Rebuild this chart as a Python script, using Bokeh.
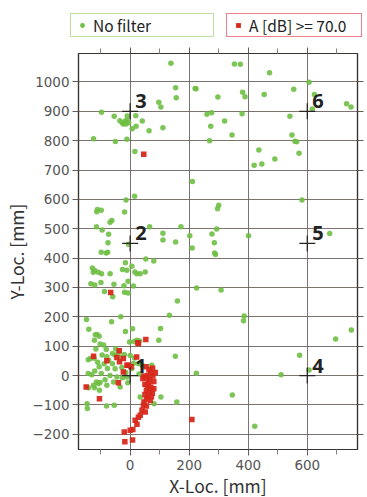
from bokeh.plotting import figure
from bokeh.layouts import column, row
from bokeh.models import (Range1d, FixedTicker, LinearAxis, Legend, LegendItem)
from bokeh.core.properties import value
from bokeh.embed import file_html
from bokeh.resources import INLINE

# ---- data -------------------------------------------------------------
green_pts = [
    (138,1064),(154,980),(156,946),(223,977),(97,931),(104,915),(-97,897),(-54,883),(-10,884),(19,885),
    (-35,868),(-27,861),(-18,865),(-11,871),(-23,857),(-14,857),(-5,861),(41,867),(20,849),(7,841),
    (64,834),(111,844),(-124,807),(-50,797),(-11,805),(16,763),
    (353,1061),(373,1060),(472,1031),(606,999),(220,978),(297,949),(381,965),(389,950),(454,957),(554,975),
    (624,957),(733,926),(748,915),(617,908),(260,890),(276,895),(379,892),(541,883),(320,867),(273,849),
    (345,819),(269,800),(548,819),(558,798),(564,796),(436,768),(572,757),(490,738),(420,716),(446,721),
    (211,661),(15,611),(-14,598),(-111,566),(-113,558),(-98,563),(-19,557),(-68,522),(-62,528),(-114,507),
    (-95,496),(-73,481),(66,507),(111,485),(111,462),(172,507),(154,455),(-75,452),(-6,447),(202,476),
    (210,434),(-98,420),(-81,417),(-76,420),(53,397),
    (582,598),(300,580),(296,568),(277,482),(293,499),(401,476),(676,484),(285,452),(286,417),(289,412),
    (225,298),(308,291),(386,203),(384,187),(749,155),(696,124),(574,69),(606,19),(511,3),(224,8),
    (346,-66),(422,-173),
    (80,390),(-16,384),(-128,366),(-120,358),(-108,352),(-97,347),(-125,352),(-68,347),(-26,361),(6,372),
    (16,353),(23,347),(34,347),(51,353),(-11,359),(-133,313),(-120,308),(-99,317),(-55,311),(-21,306),
    (-7,321),(11,305),(-19,284),(-7,281),(-87,286),(-59,268),(160,254),(133,205),(-32,200),(-148,191),
    (-63,183),(-140,158),(-16,150),(8,159),(103,160),(-118,139),(-112,140),(-105,134),(-121,120),(-102,107),
    (-90,104),(-2,114),(14,116),(23,120),(32,118),(97,120),(-116,90),(-81,89),(-49,91),(153,66),
    (-142,54),(-135,58),(-122,59),(-79,64),(-73,52),(-51,69),(-34,63),(11,41),(6,24),(28,41),
    (40,35),(-105,30),(-77,24),(-51,23),(-28,27),(-142,7),(-130,3),(-98,7),(-68,0),(-45,-5),
    (-26,-8),(-11,-5),(-85,-14),(-114,-22),(-107,-27),(-102,-24),(-124,-33),(-121,-42),(-79,-33),(-56,-22),
    (-34,-39),(-8,-25),(-141,-42),(-104,-50),(34,-73),(104,-73),(-146,-96),(-145,-112),(-80,-104),(-54,-101),
    (81,-96),(158,-90),(73,35),(-95,70),(-60,75),(-40,80),(-20,72),(0,68),(15,60),(-110,45),(-88,40),
    (-60,40),(-15,10),(30,5),(-120,15),
]
red_pts = [
    (46,754),(-66,283),(26,112),(53,123),(-37,84),(-79,50),(-124,66),(-45,61),(-36,47),(-23,58),
    (-6,35),(3,30),(-11,35),(22,63),(-23,12),(54,30),(64,20),(76,25),(85,10),(70,8),
    (47,-2),(56,-8),(66,-14),(77,-2),(-40,-25),(-149,-39),(-104,-79),(50,-30),(60,-35),(70,-40),
    (80,-45),(55,-50),(65,-55),(75,-60),(50,-65),(60,-70),(72,-72),(55,-80),(68,-85),(47,-90),
    (45,-101),(55,-104),(40,-118),(51,-124),(34,-135),(28,-142),(17,-152),(23,-166),(0,-186),(9,-184),
    (-20,-192),(-18,-226),(8,-220),(209,-150),(28,109),(60,0),(43,-10),(62,-25),(80,-20),(67,-45),
]
green_x = [p[0] for p in green_pts]
green_y = [p[1] for p in green_pts]
red_x = [p[0] for p in red_pts]
red_y = [p[1] for p in red_pts]

sensor_x = [0, 0, 0, 600, 600, 600]
sensor_y = [0, 450, 900, 0, 450, 900]
sensor_labels = ["1", "2", "3", "4", "5", "6"]

x_ticks = [0, 200, 400, 600]
x_minor = [-100, 100, 300, 500, 700]
y_ticks = list(range(-200, 1001, 100))

FONT = "Noto Sans CJK JP"
TICK_FONT = "DejaVu Sans"
GREEN = "#6fbf45"
RED = "#d8281c"
AXIS_C = "#3a3330"
GRID_C = "#665b56"

# ---- legend strip (two small figures side by side) --------------------
def legend_fig(width, left, label, marker, color, border_color, lw):
    f = figure(output_backend="svg", toolbar_location=None, width=width, height=40,
               x_axis_type=None, y_axis_type=None,
               min_border_left=left, min_border_right=0, min_border_top=13, min_border_bottom=0,
               x_range=Range1d(0, 1), y_range=Range1d(0, 1),
               outline_line_color=None, background_fill_color="white",
               border_fill_color="white")
    rr = f.scatter([-5], [-5], marker=marker, size=6, fill_color=color, line_color=None)
    lg = Legend(items=[LegendItem(label=label, renderers=[rr])], location="top_left",
                orientation="horizontal",
                border_line_color=border_color, border_line_width=1.2,
                background_fill_color="white", background_fill_alpha=1,
                padding=0, spacing=0, margin=0,
                glyph_width=22, glyph_height=12, label_height=12,
                label_standoff=0, label_width=lw,
                label_text_font=FONT, label_text_font_size="15.5px",
                label_text_color="#222222")
    f.add_layout(lg, "center")
    return f

lf1 = legend_fig(218, 70, "No filter", "circle", GREEN, "#7cc142", 120)
lf2 = legend_fig(149, 8, "A [dB] >= 70.0", "square", RED, "#e2001a", 112)

# ---- main plot --------------------------------------------------------
p = figure(output_backend="svg", toolbar_location=None,
           frame_width=279, frame_height=396,
           x_range=Range1d(-175, 770), y_range=Range1d(-252, 1097),
           min_border_left=78, min_border_right=10, min_border_top=13, min_border_bottom=48,
           background_fill_color="white", border_fill_color="white",
           outline_line_color=AXIS_C, outline_line_width=1.2)

xt = FixedTicker(ticks=x_ticks, minor_ticks=x_minor)
yt = FixedTicker(ticks=y_ticks)
p.xaxis[0].ticker = xt
p.yaxis[0].ticker = yt
p.xgrid.ticker = xt
p.ygrid.ticker = yt
p.xgrid.grid_line_color = GRID_C
p.ygrid.grid_line_color = GRID_C
p.xgrid.grid_line_alpha = 0.85
p.ygrid.grid_line_alpha = 0.85

def style_axis(ax):
    ax.axis_line_color = AXIS_C
    ax.axis_line_width = 1.2
    ax.major_tick_line_color = GRID_C
    ax.minor_tick_line_color = "#8a807b"
    ax.major_tick_out = 6
    ax.major_tick_in = 0
    ax.minor_tick_out = 5
    ax.minor_tick_in = 0
    ax.major_label_text_font = TICK_FONT
    ax.major_label_text_font_size = "13.5px"
    ax.major_label_text_color = "#555555"
    ax.axis_label_text_font = FONT
    ax.axis_label_text_font_size = "17.5px"
    ax.axis_label_text_font_style = "normal"
    ax.axis_label_text_color = "#333333"

style_axis(p.xaxis[0])
style_axis(p.yaxis[0])
p.xaxis[0].axis_label = "X-Loc. [mm]"
p.yaxis[0].axis_label = "Y-Loc. [mm]"
p.xaxis[0].axis_label_standoff = 0
p.yaxis[0].axis_label_standoff = 0
p.xaxis[0].major_label_standoff = 4
p.yaxis[0].major_label_standoff = 3

top_ax = LinearAxis(ticker=xt, major_label_overrides={t: "" for t in x_ticks})
style_axis(top_ax)
top_ax.major_label_standoff = 0
p.add_layout(top_ax, "above")
right_ax = LinearAxis(ticker=yt, major_label_overrides={t: "" for t in y_ticks})
style_axis(right_ax)
right_ax.major_label_standoff = 0
right_ax.minor_tick_out = 0
p.add_layout(right_ax, "right")

p.scatter(green_x, green_y, marker="circle", size=5.5, fill_color=GREEN,
          line_color=None, fill_alpha=0.9)
p.scatter(red_x, red_y, marker="square", size=5.5, fill_color=RED,
          line_color=None, fill_alpha=0.95)

p.scatter(sensor_x, sensor_y, marker="cross", size=16, line_color="#2a2522", line_width=1.3)
p.text(sensor_x, sensor_y, text=sensor_labels, x_offset=5, y_offset=-3,
       text_font=value("Noto Sans"), text_font_size="20px", text_font_style="bold",
       text_color="#222222", text_baseline="bottom", text_align="left")

layout = column(row(lf1, lf2, spacing=0), p, spacing=0)
open("out.html", "w").write(file_html(layout, INLINE))
